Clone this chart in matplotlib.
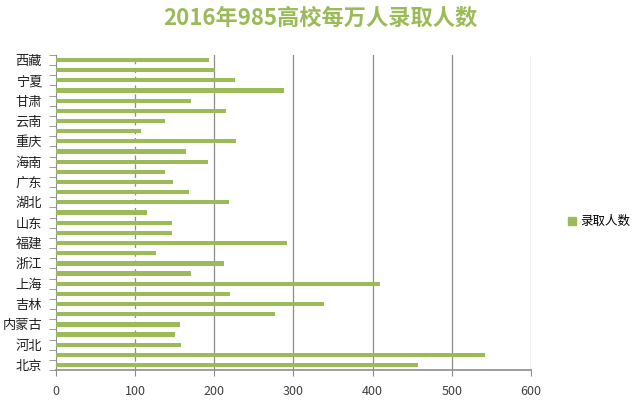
import numpy as np
import matplotlib
matplotlib.use('Agg')
import matplotlib.pyplot as plt
from matplotlib.patches import Patch

plt.rcParams['font.family'] = ['Noto Sans CJK SC', 'DejaVu Sans']

# 省份（自下而上）
provinces = ['北京', '天津', '河北', '山西', '内蒙古', '辽宁', '吉林', '黑龙江',
             '上海', '江苏', '浙江', '安徽', '福建', '江西', '山东', '河南',
             '湖北', '湖南', '广东', '广西', '海南', '四川', '重庆', '贵州',
             '云南', '陕西', '甘肃', '青海', '宁夏', '新疆', '西藏']
# 每万人录取人数
values = [458, 542, 158, 150, 157, 277, 339, 220,
          409, 171, 212, 126, 292, 147, 146, 115,
          218, 168, 148, 138, 192, 164, 228, 108,
          138, 215, 171, 288, 226, 201, 193]
x_ticks = [0, 100, 200, 300, 400, 500, 600]

green = '#9BBB59'
grid_c = '#8C8C8C'

fig = plt.figure(figsize=(6.4, 4.01), dpi=100)
ax = fig.add_axes([0.0875, 0.077, 0.742, 0.786])

y = np.arange(len(provinces))
ax.barh(y, values, height=0.42, color=green, zorder=3)

ax.set_xlim(0, 600)
ax.set_ylim(-0.5, len(provinces) - 0.5)

# 网格线
for xv in x_ticks[1:]:
    ls = (0, (4, 3)) if xv == 100 else '-'
    ax.axvline(xv, color=grid_c, lw=0.9, ls=ls, zorder=1)

ax.set_xticks(x_ticks)
ax.set_xticklabels([str(v) for v in x_ticks], fontsize=9, color='#404040')
ax.tick_params(axis='x', length=4, color=grid_c, pad=7)

# y轴：隔一个显示标签，刻度线在类别边界
ax.set_yticks(y[::2])
ax.set_yticklabels(provinces[::2], fontsize=9.5, color='#202020')
ax.set_yticks(np.arange(-0.5, len(provinces)), minor=True)
ax.tick_params(axis='y', which='major', length=0, pad=10)
ax.tick_params(axis='y', which='minor', length=5, color=grid_c)

for s in ['top', 'right']:
    ax.spines[s].set_visible(False)
ax.spines['left'].set_color(grid_c)
ax.spines['bottom'].set_color(grid_c)
ax.spines['bottom'].set_linewidth(1.2)

fig.text(0.5, 0.955, '2016年985高校每万人录取人数', ha='center', va='center',
         fontsize=16, fontweight='bold', color=green)

fig.legend(handles=[Patch(color=green, label='录取人数')], loc='center left',
           bbox_to_anchor=(0.87, 0.447), frameon=False, fontsize=9,
           handlelength=0.6, handleheight=0.6, handletextpad=0.4)

fig.savefig('out.png', dpi=100)
